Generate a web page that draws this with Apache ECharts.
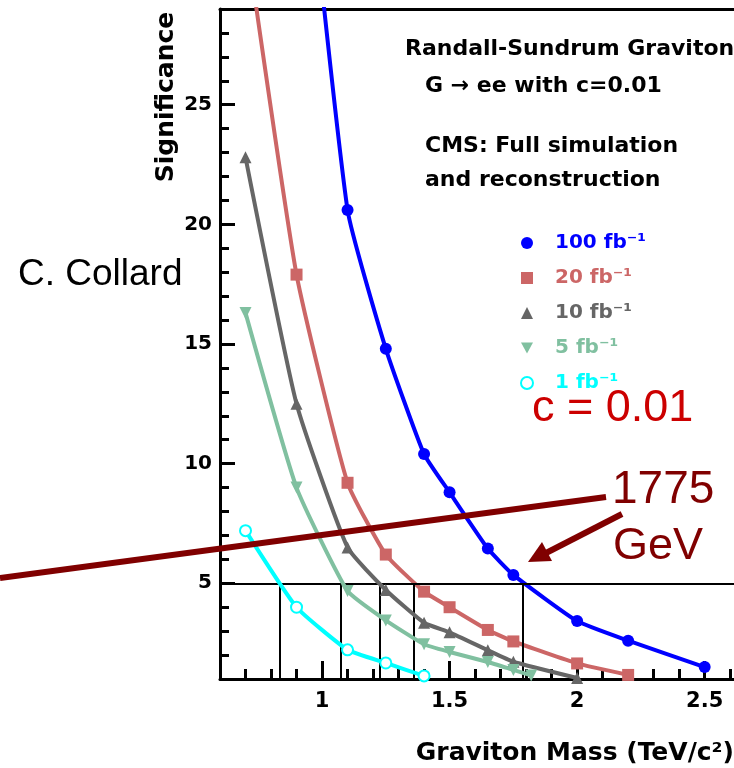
<!DOCTYPE html>
<html>
<head>
<meta charset="utf-8">
<title>RS Graviton significance</title>
<script src="https://cdn.jsdelivr.net/npm/echarts@6/dist/echarts.min.js"></script>
<style>
  html, body { margin: 0; padding: 0; background: #fff; }
  #chart { width: 734px; height: 768px; }
</style>
</head>
<body>
<div id="chart"></div>
<script>
// graviton mass (TeV/c^2) vs significance, one pair of arrays per luminosity
var mass100 = [0.9, 1.1, 1.25, 1.4, 1.5, 1.65, 1.75, 2.0, 2.2, 2.5];
var sig100 = [40.0, 20.6, 14.8, 10.4, 8.8, 6.45, 5.35, 3.42, 2.6, 1.5];

var mass20 = [0.7, 0.9, 1.1, 1.25, 1.4, 1.5, 1.65, 1.75, 2.0, 2.2];
var sig20 = [32.2, 17.9, 9.2, 6.2, 4.65, 4.0, 3.05, 2.57, 1.65, 1.17];

var mass10 = [0.7, 0.9, 1.1, 1.25, 1.4, 1.5, 1.65, 1.75, 2.0];
var sig10 = [22.8, 12.5, 6.5, 4.72, 3.35, 2.95, 2.2, 1.72, 1.04];

var mass5 = [0.7, 0.9, 1.1, 1.25, 1.4, 1.5, 1.65, 1.75, 1.82];
var sig5 = [16.3, 9.0, 4.68, 3.45, 2.45, 2.13, 1.71, 1.38, 1.15];

var mass1 = [0.7, 0.9, 1.1, 1.25, 1.4];
var sig1 = [7.2, 4.0, 2.22, 1.67, 1.13];

var seriesNames = ["100 fb⁻¹", "20 fb⁻¹", "10 fb⁻¹", "5 fb⁻¹", "1 fb⁻¹"];

// masses where each curve crosses 5 sigma
var fiveSigmaMass = [0.833, 1.075, 1.225, 1.36, 1.785];
var fiveSigma = 5;

var xLabels = [1, 1.5, 2, 2.5];
var yLabels = [5, 10, 15, 20, 25];

var xMin = 0.6, xMax = 2.615, yMin = 1, yMax = 29;

var xMinor = [];
for (var i = 7; i <= 26; i++) {
  if (xLabels.indexOf(i / 10) < 0) xMinor.push(i / 10);
}
var yMinor = [];
for (var j = 2; j <= 28; j++) {
  if (j % 5 !== 0) yMinor.push(j);
}

var colors = ["#0000ff", "#cc6666", "#666666", "#80c0a0", "#00ffff"];
var downTriangle = "path://M0,0 L10,0 L5,9 Z";
var symbols = ["circle", "rect", "triangle", downTriangle, "emptyCircle"];
var rootFont = "DejaVu Sans";

function pairs(xs, ys) {
  return xs.map(function (x, k) { return [x, ys[k]]; });
}

var dataSets = [
  pairs(mass100, sig100),
  pairs(mass20, sig20),
  pairs(mass10, sig10),
  pairs(mass5, sig5),
  pairs(mass1, sig1)
];

var fiveSigmaLines = [[{ coord: [xMin, fiveSigma] }, { coord: [xMax, fiveSigma] }]];
fiveSigmaMass.forEach(function (m) {
  fiveSigmaLines.push([{ coord: [m, yMin] }, { coord: [m, fiveSigma] }]);
});

var series = dataSets.map(function (d, k) {
  var s = {
    name: seriesNames[k],
    type: "line",
    data: d,
    smooth: 0.15,
    symbol: symbols[k],
    symbolSize: k === 4 ? 11 : 12,
    lineStyle: { color: colors[k], width: 4 },
    itemStyle: { color: colors[k], borderWidth: k === 4 ? 3 : 0 },
    z: 3 + k
  };
  if (k === 0) {
    s.markLine = {
      symbol: "none",
      silent: true,
      animation: false,
      label: { show: false },
      lineStyle: { color: "#000", width: 2, type: "solid" },
      data: fiveSigmaLines
    };
  }
  return s;
});

var chart = echarts.init(document.getElementById("chart"));

var arrowTip = [528, 562];
var arrowTail = [622, 514];

chart.setOption({
  animation: false,
  backgroundColor: "#fff",
  grid: { left: 220, right: -5, top: 9, bottom: 89 },
  xAxis: [
    {
      type: "value", min: xMin, max: xMax, position: "bottom",
      axisLine: { lineStyle: { color: "#000", width: 3 } },
      axisTick: { inside: true, length: 18, customValues: xLabels, lineStyle: { color: "#000", width: 3 } },
      axisLabel: {
        customValues: xLabels, margin: 12, color: "#000",
        fontFamily: rootFont, fontWeight: "bold", fontSize: 21
      },
      splitLine: { show: false }
    },
    {
      type: "value", min: xMin, max: xMax, position: "bottom",
      axisLine: { show: false },
      axisTick: { inside: true, length: 10, customValues: xMinor, lineStyle: { color: "#000", width: 3 } },
      axisLabel: { show: false },
      splitLine: { show: false }
    },
    {
      type: "value", min: xMin, max: xMax, position: "top",
      axisLine: { lineStyle: { color: "#000", width: 3 } },
      axisTick: { show: false },
      axisLabel: { show: false },
      splitLine: { show: false }
    }
  ],
  yAxis: [
    {
      type: "value", min: yMin, max: yMax, position: "left",
      axisLine: { lineStyle: { color: "#000", width: 3 } },
      axisTick: { inside: true, length: 15, customValues: yLabels, lineStyle: { color: "#000", width: 3 } },
      axisLabel: {
        customValues: yLabels, margin: 8, color: "#000",
        fontFamily: rootFont, fontWeight: "bold", fontSize: 20
      },
      splitLine: { show: false }
    },
    {
      type: "value", min: yMin, max: yMax, position: "left",
      axisLine: { show: false },
      axisTick: { inside: true, length: 9, customValues: yMinor, lineStyle: { color: "#000", width: 3 } },
      axisLabel: { show: false },
      splitLine: { show: false }
    }
  ],
  legend: {
    orient: "vertical",
    left: 515,
    top: 228,
    itemWidth: 12,
    itemHeight: 12,
    itemGap: 15,
    selectedMode: false,
    textStyle: {
      fontFamily: rootFont, fontWeight: "bold", fontSize: 20,
      lineHeight: 12, padding: [0, 0, 0, 17]
    },
    data: seriesNames.map(function (n, k) {
      return { name: n, icon: symbols[k], textStyle: { color: colors[k] } };
    })
  },
  series: series,
  graphic: [
    {
      type: "text", x: 18, y: 275, z: 100,
      style: { text: "C. Collard", fill: "#000", font: '37px "Liberation Sans", Arial', verticalAlign: "middle" }
    },
    {
      type: "text", x: 405, y: 49, z: 100,
      style: { text: "Randall-Sundrum Graviton", fill: "#000", font: 'bold 22px "DejaVu Sans"', verticalAlign: "middle" }
    },
    {
      type: "text", x: 425, y: 86, z: 100,
      style: { text: "G → ee with c=0.01", fill: "#000", font: 'bold 22px "DejaVu Sans"', verticalAlign: "middle" }
    },
    {
      type: "text", x: 425, y: 146, z: 100,
      style: { text: "CMS: Full simulation", fill: "#000", font: 'bold 22px "DejaVu Sans"', verticalAlign: "middle" }
    },
    {
      type: "text", x: 425, y: 180, z: 100,
      style: { text: "and reconstruction", fill: "#000", font: 'bold 22px "DejaVu Sans"', verticalAlign: "middle" }
    },
    {
      type: "text", x: 166, y: 97, rotation: Math.PI / 2, z: 100,
      style: { text: "Significance", fill: "#000", font: 'bold 25px "DejaVu Sans"', align: "center", verticalAlign: "middle" }
    },
    {
      type: "text", x: 734, y: 753, z: 100,
      style: { text: "Graviton Mass (TeV/c²)", fill: "#000", font: 'bold 25px "DejaVu Sans"', align: "right", verticalAlign: "middle" }
    },
    {
      type: "text", x: 532, y: 409, z: 100,
      style: { text: "c = 0.01", fill: "#cc0000", font: '45px "Liberation Sans", Arial', verticalAlign: "middle" }
    },
    {
      type: "text", x: 612, y: 490, z: 100,
      style: { text: "1775", fill: "#800000", font: '46px "Liberation Sans", Arial', verticalAlign: "middle" }
    },
    {
      type: "text", x: 613, y: 547, z: 100,
      style: { text: "GeV", fill: "#800000", font: '45px "Liberation Sans", Arial', verticalAlign: "middle" }
    },
    {
      type: "line", z: 100,
      shape: { x1: 0, y1: 578, x2: 606, y2: 497 },
      style: { stroke: "#800000", lineWidth: 6 }
    },
    {
      type: "line", z: 100,
      shape: { x1: arrowTail[0], y1: arrowTail[1], x2: 546, y2: 553 },
      style: { stroke: "#800000", lineWidth: 6 }
    },
    {
      type: "polygon", z: 100,
      shape: { points: [arrowTip, [552, 561], [542, 542]] },
      style: { fill: "#800000" }
    }
  ]
});
</script>
</body>
</html>
